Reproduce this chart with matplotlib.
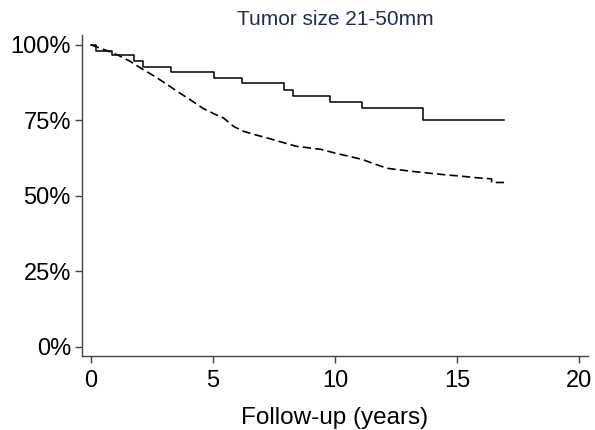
import matplotlib
matplotlib.use('Agg')
import matplotlib.pyplot as plt
from matplotlib.ticker import FuncFormatter

# solid curve (step times in years, survival %)
solid_t = [0, 0.19, 0.85, 1.77, 2.12, 3.27, 5.04, 6.19, 7.93, 8.26, 9.79, 11.09, 13.59, 16.93]
solid_s = [100, 98.1, 96.5, 94.5, 92.8, 90.9, 89.1, 87.3, 85.1, 83.2, 81.2, 79.1, 75.0, 75.0]

# dashed curve (many small events, drawn as a line through read points)
dash_t = [0, 0.34, 0.75, 1.05, 1.55, 2.06, 2.56, 3.06, 3.57, 4.07, 4.58, 5.08, 5.43, 5.84, 6.24,
          6.69, 7.2, 7.8, 8.41, 8.91, 9.41, 10.07, 10.62, 11.13, 11.63, 12.14, 12.64, 13.14,
          13.85, 14.45, 15.16, 15.76, 16.42, 16.42, 16.93]
dash_s = [100, 99.0, 97.8, 96.8, 94.8, 92.2, 89.8, 87.2, 84.4, 81.8, 79.0, 77.0, 75.8, 73.0, 71.4,
          70.3, 69.2, 67.8, 66.4, 65.9, 65.4, 64.0, 63.0, 62.0, 60.5, 59.1, 58.6, 58.1,
          57.5, 57.0, 56.5, 56.0, 55.6, 54.4, 54.4]

title = 'Tumor size 21-50mm'
x_ticks = [0, 5, 10, 15, 20]
y_ticks = [0, 25, 50, 75, 100]

plt.rcParams['font.family'] = ['Liberation Sans', 'DejaVu Sans']

fig = plt.figure(figsize=(5.95, 4.30), dpi=100)
ax = fig.add_axes([0.1378, 0.1728, 0.8504, 0.746])

ax.step(solid_t, solid_s, where='post', color='black', lw=1.1)
ax.plot(dash_t, dash_s, color='black', lw=1.2, linestyle=(0, (5, 2.5)))

ax.set_xlim(-0.37, 20.37)
ax.set_ylim(-3, 103.3)
ax.set_xticks(x_ticks)
ax.set_yticks(y_ticks)
ax.yaxis.set_major_formatter(FuncFormatter(lambda v, _: f'{v:.0f}%'))
ax.tick_params(labelsize=17, length=5, width=1, color='#444444', pad=3)
ax.tick_params(axis='x', pad=5)

for side in ('top', 'right'):
    ax.spines[side].set_visible(False)
for side in ('left', 'bottom'):
    ax.spines[side].set_color('#444444')
    ax.spines[side].set_linewidth(1)

ax.set_title(title, fontsize=15, color='#1e2d5a', pad=7)
ax.set_xlabel('Follow-up (years)', fontsize=17.5, labelpad=11)

fig.savefig('out.png', dpi=100)
